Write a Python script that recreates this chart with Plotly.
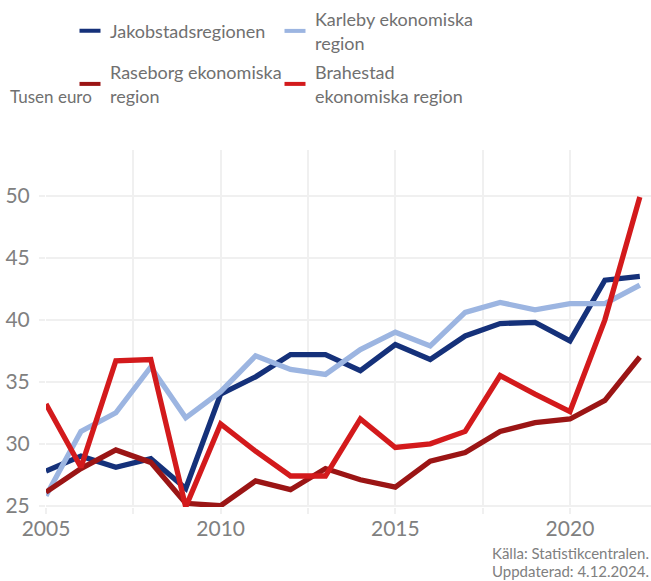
import plotly.graph_objects as go

years = list(range(2005, 2023))
jakobstad = [27.8, 29.0, 28.1, 28.8, 26.4, 34.0, 35.4, 37.2, 37.2, 35.9, 38.0, 36.8, 38.7, 39.7, 39.8, 38.3, 43.2, 43.5]
karleby = [25.8, 31.0, 32.5, 36.2, 32.1, 34.2, 37.1, 36.0, 35.6, 37.6, 39.0, 37.9, 40.6, 41.4, 40.8, 41.3, 41.3, 42.8]
raseborg = [26.1, 28.0, 29.5, 28.5, 25.2, 25.0, 27.0, 26.3, 28.0, 27.1, 26.5, 28.6, 29.3, 31.0, 31.7, 32.0, 33.5, 37.0]
brahestad = [33.2, 28.1, 36.7, 36.8, 24.9, 31.6, 29.4, 27.4, 27.4, 32.0, 29.7, 30.0, 31.0, 35.5, 34.0, 32.6, 40.0, 49.9]

names = ["Jakobstadsregionen", "Karleby ekonomiska<br>region",
         "Raseborg ekonomiska<br>region", "Brahestad<br>ekonomiska region"]
colors = ["#15317a", "#9cb5e1", "#9b1515", "#d31a1c"]
series = [jakobstad, karleby, raseborg, brahestad]

xtickvals = [2005, 2007.5, 2010, 2012.5, 2015, 2017.5, 2020, 2022.5]
xticktext = ["2005", "", "2010", "", "2015", "", "2020", ""]
ytickvals = [25, 30, 35, 40, 45, 50]

FONT = "Lato"
W, H = 651, 581
PL, PR = 46, 651   # plot left / right in figure pixels
PT, PB = 150, 507  # plot top / bottom in figure pixels
PW, PH = PR - PL, PB - PT
legend_ids = ["legend", "legend2", "legend3", "legend4"]
# legend anchor positions in figure pixels (x of item start, y of item centre)
legend_pos = [(70, 31), (275, 31), (70, 84), (275, 84)]

fig = go.Figure()
for vals, c, n in zip(series, colors, names):
    fig.add_trace(go.Scatter(x=years, y=vals, mode="lines", name=n,
                             line=dict(color=c, width=5.3), showlegend=False))
for c, n, lid in zip(colors, names, legend_ids):
    fig.add_trace(go.Scatter(x=[None], y=[None], mode="markers", name=n,
                             legend=lid, showlegend=True,
                             marker=dict(symbol="line-ew", size=15, color=c,
                                         line=dict(color=c, width=4))))

legend_layout = {}
for lid, (lx, ly) in zip(legend_ids, legend_pos):
    legend_layout[lid] = dict(xref="container", yref="container",
                              x=lx / W, y=1 - ly / H, xanchor="left", yanchor="middle",
                              font=dict(size=18, color="#707070", family=FONT),
                              itemsizing="trace", bgcolor="rgba(0,0,0,0)",
                              borderwidth=0)

fig.update_layout(
    width=W, height=H,
    margin=dict(l=PL, r=W - PR, t=PT, b=H - PB, autoexpand=False),
    plot_bgcolor="white", paper_bgcolor="white",
    font=dict(family=FONT, color="#808080"),
    xaxis=dict(range=[2005, 2022.32], tickvals=xtickvals, ticktext=xticktext,
               showgrid=True, gridcolor="#f0f0f0", gridwidth=2,
               ticks="outside", ticklen=6, tickcolor="#f0f0f0", tickwidth=2,
               zeroline=False, showline=False, ticklabelstandoff=-3,
               tickangle=0, automargin=False,
               tickfont=dict(size=21, color="#808080", family=FONT)),
    yaxis=dict(range=[24.9, 53.7], tickvals=ytickvals,
               showgrid=True, gridcolor="#f0f0f0", gridwidth=2,
               ticks="outside", ticklen=6, tickcolor="#f0f0f0", tickwidth=2,
               zeroline=False, showline=False, ticklabelstandoff=5,
               automargin=False,
               tickfont=dict(size=21, color="#808080", family=FONT)),
    annotations=[
        dict(text="Tusen euro", xref="paper", yref="paper",
             x=(8 - PL) / PW, y=(PB - 96) / PH, xanchor="left", yanchor="middle",
             showarrow=False, font=dict(size=17, color="#707070", family=FONT)),
        dict(text="Källa: Statistikcentralen.", xref="paper", yref="paper",
             x=(651 - PL) / PW, y=(PB - 553) / PH, xanchor="right", yanchor="middle",
             showarrow=False, font=dict(size=15, color="#808080", family=FONT)),
        dict(text="Uppdaterad: 4.12.2024.", xref="paper", yref="paper",
             x=(651 - PL) / PW, y=(PB - 571) / PH, xanchor="right", yanchor="middle",
             showarrow=False, font=dict(size=15, color="#808080", family=FONT)),
    ],
    **legend_layout,
)

fig.write_html("out.html", config={"displayModeBar": False},
               post_script="document.body.style.margin='0';")
